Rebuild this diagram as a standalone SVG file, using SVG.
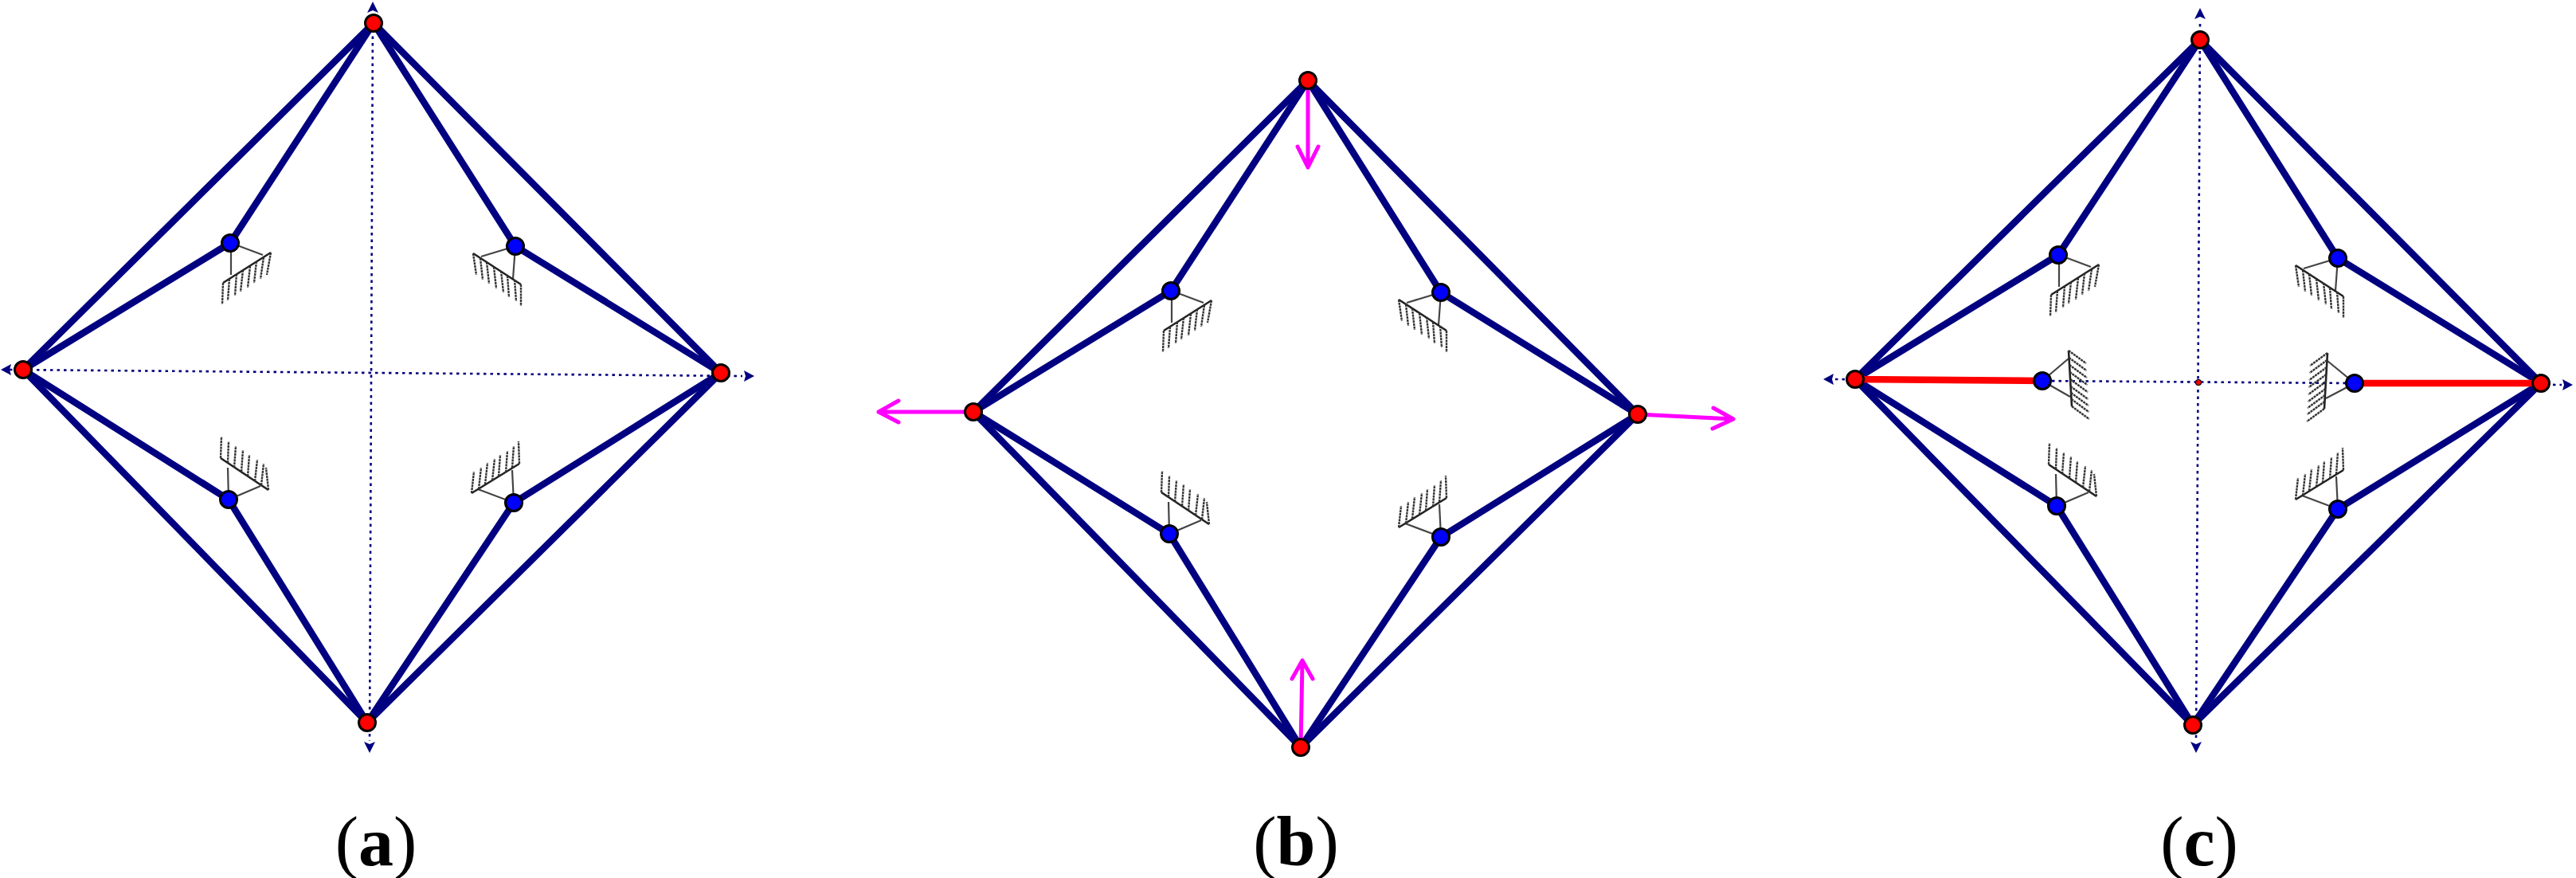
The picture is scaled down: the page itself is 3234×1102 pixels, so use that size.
<svg xmlns="http://www.w3.org/2000/svg" width="3234" height="1102" viewBox="0 0 3234 1102">
<style>
.m{stroke:#000080;stroke-width:8.5;fill:none;stroke-linecap:round}
.r{stroke:#ff0000;stroke-width:8.5;fill:none}
.d{stroke:#000080;stroke-width:2.6;fill:none;stroke-dasharray:3.5 5}
.f{stroke:#ff00ff;stroke-width:5;fill:none;stroke-linecap:round;stroke-linejoin:round}
.nr{fill:#ff0000;stroke:#000;stroke-width:3}
.nb{fill:#0000ff;stroke:#000;stroke-width:3}
.tr{stroke:#444;stroke-width:2.2;fill:none}
.ba{stroke:#222;stroke-width:2.6;fill:none}
.ha{stroke:#333;stroke-width:2.4;fill:none;stroke-dasharray:3 .8}
.lb{font-family:"Liberation Serif","Times New Roman",serif;font-size:88px;fill:#000;text-anchor:middle}
.ah{fill:#000080}
</style>
<defs>
<g id="sUL"><path class="tr" d="M1 40L1 0L41 15"/><path class="ba" d="M-9 50L51 12"/><path class="ha" d="M-9 50l-1 27M-1 45l-2 27M8 39l-2 27M16 34l-3 27M25 29l-3 27M33 23l-3 27M42 18l-4 27M51 12l-5 28"/></g>
<g id="sUR"><path class="tr" d="M-43 13L0 0L-3 41"/><path class="ba" d="M-53 9L7 48"/><path class="ha" d="M-53 9l4 27M-44 15l3 27M-36 20l3 27M-27 26l3 27M-18 31l3 27M-10 37l2 27M-1 42l2 27M7 48l0 27"/></g>
<g id="sLL"><path class="tr" d="M-1 -40L0 0L40 -17"/><path class="ba" d="M-10 -52L50 -12"/><path class="ha" d="M-10 -52l1 -27M-1 -46l1 -27M7 -40l2 -27M16 -35l2 -27M24 -29l2 -27M33 -23l3 -27M41 -18l3 -27M50 -12l-3 -28"/></g>
<g id="sLR"><path class="tr" d="M-2 -41L0 0L-45 -17"/><path class="ba" d="M-53 -12L7 -49"/><path class="ha" d="M-53 -12l3 -27M-44 -17l3 -27M-36 -23l3 -27M-27 -28l3 -27M-19 -33l2 -27M-10 -38l2 -27M-2 -44l2 -27M7 -49l-1 -28"/></g>
<g id="sML"><path class="tr" d="M33 -28L0 0L35 20"/><path class="ba" d="M33 -38L37 32"/><path class="ha" d="M33 -38l22 16M33.500 -29l22 16M34 -20l22 16M34.500 -11l22 16M35 -2l22 16M35.500 7l22 16M36 15l22 16M36.500 23l22 16M37 32l22 16"/></g>
<g id="sMR"><path class="tr" d="M-34 -28L0 0L-36 19"/><path class="ba" d="M-34 -38L-38 32"/><path class="ha" d="M-34 -38l-22 16M-34.500 -29l-22 16M-35 -20l-22 16M-35.500 -11l-22 16M-36 -2l-22 16M-36.500 7l-22 16M-37 15l-22 16M-37.500 23l-22 16M-38 32l-22 16"/></g>
</defs>
<rect width="3234" height="1102" fill="#fff"/>
<g id="connectors">
<g id="panel-a-lines">
<path class="d" d="M12 464L932 472"/><path class="d" d="M468 20L464 930"/>
<path class="ah" d="M468 2L475 16L468 13L461 16Z"/><path class="ah" d="M1 464L14 457L12 464L14 471Z"/><path class="ah" d="M947 472L934 479L936 472L934 465Z"/><path class="ah" d="M464 945L457 931L464 934L471 931Z"/>
<path class="m" d="M469 29L29 464L461 907L905 468Z"/>
<path class="m" d="M469 29L289 305L29 464M469 29L647 309L905 468M29 464L287 627L461 907M905 468L645 631L461 907"/>
</g>
<g id="panel-b-lines">
<path class="m" d="M1642 101L1222 517L1633 938L2056 520Z"/>
<path class="m" d="M1642 101L1470 365L1222 517M1642 101L1809 367L2056 520M1222 517L1468 670L1633 938M2056 520L1809 674L1633 938"/>
<path class="f" d="M1642 101L1642 210M1629 184L1642 210L1655 184"/>
<path class="f" d="M1222 517L1103 517M1128 503L1103 517L1128 530"/>
<path class="f" d="M2056 520L2176 526M2151 512L2176 526L2150 538"/>
<path class="f" d="M1633 938L1635 829M1622 852L1635 829L1648 852"/>
</g>
<g id="panel-c-lines">
<path class="d" d="M2304 476L3216 483"/><path class="d" d="M2762 30L2757 930"/>
<path class="ah" d="M2762 10L2769 24L2762 21L2755 24Z"/><path class="ah" d="M2757 945L2750 931L2757 934L2764 931Z"/><path class="ah" d="M2289 476L2302 469L2300 476L2302 483Z"/><path class="ah" d="M3230 483L3217 490L3219 483L3217 476Z"/>
<path class="m" d="M2762 50L2329 476L2753 910L3190 481Z"/>
<path class="m" d="M2762 50L2584 320L2329 476M2762 50L2935 324L3190 481M2329 476L2582 635L2753 910M3190 481L2935 639L2753 910"/>
<path class="r" d="M2329 476L2564 478M2956 481L3190 481"/>
</g>
</g>
<g id="a-support-ul"><use href="#sUL" x="289" y="305"/></g>
<g id="a-support-ur"><use href="#sUR" x="647" y="309"/></g>
<g id="a-support-ll"><use href="#sLL" x="287" y="627"/></g>
<g id="a-support-lr"><use href="#sLR" x="645" y="631"/></g>
<g id="b-support-ul"><use href="#sUL" x="1470" y="365"/></g>
<g id="b-support-ur"><use href="#sUR" x="1809" y="367"/></g>
<g id="b-support-ll"><use href="#sLL" x="1468" y="670"/></g>
<g id="b-support-lr"><use href="#sLR" x="1809" y="674"/></g>
<g id="c-support-ul"><use href="#sUL" x="2584" y="320"/></g>
<g id="c-support-ur"><use href="#sUR" x="2935" y="324"/></g>
<g id="c-support-ll"><use href="#sLL" x="2582" y="635"/></g>
<g id="c-support-lr"><use href="#sLR" x="2935" y="639"/></g>
<g id="c-support-ml"><use href="#sML" x="2564" y="478"/></g>
<g id="c-support-mr"><use href="#sMR" x="2956" y="481"/></g>
<g id="a-top"><circle class="nr" cx="469" cy="29" r="10.5"/></g>
<g id="a-left"><circle class="nr" cx="29" cy="464" r="10.5"/></g>
<g id="a-right"><circle class="nr" cx="905" cy="468" r="10.5"/></g>
<g id="a-bottom"><circle class="nr" cx="461" cy="907" r="10.5"/></g>
<g id="a-ul"><circle class="nb" cx="289" cy="305" r="10.5"/></g>
<g id="a-ur"><circle class="nb" cx="647" cy="309" r="10.5"/></g>
<g id="a-ll"><circle class="nb" cx="287" cy="627" r="10.5"/></g>
<g id="a-lr"><circle class="nb" cx="645" cy="631" r="10.5"/></g>
<g id="b-top"><circle class="nr" cx="1642" cy="101" r="10.5"/></g>
<g id="b-left"><circle class="nr" cx="1222" cy="517" r="10.5"/></g>
<g id="b-right"><circle class="nr" cx="2056" cy="520" r="10.5"/></g>
<g id="b-bottom"><circle class="nr" cx="1633" cy="938" r="10.5"/></g>
<g id="b-ul"><circle class="nb" cx="1470" cy="365" r="10.5"/></g>
<g id="b-ur"><circle class="nb" cx="1809" cy="367" r="10.5"/></g>
<g id="b-ll"><circle class="nb" cx="1468" cy="670" r="10.5"/></g>
<g id="b-lr"><circle class="nb" cx="1809" cy="674" r="10.5"/></g>
<g id="c-top"><circle class="nr" cx="2762" cy="50" r="10.5"/></g>
<g id="c-left"><circle class="nr" cx="2329" cy="476" r="10.5"/></g>
<g id="c-right"><circle class="nr" cx="3190" cy="481" r="10.5"/></g>
<g id="c-bottom"><circle class="nr" cx="2753" cy="910" r="10.5"/></g>
<g id="c-ul"><circle class="nb" cx="2584" cy="320" r="10.5"/></g>
<g id="c-ur"><circle class="nb" cx="2935" cy="324" r="10.5"/></g>
<g id="c-ll"><circle class="nb" cx="2582" cy="635" r="10.5"/></g>
<g id="c-lr"><circle class="nb" cx="2935" cy="639" r="10.5"/></g>
<g id="c-ml"><circle class="nb" cx="2564" cy="478" r="10.5"/></g>
<g id="c-mr"><circle class="nb" cx="2956" cy="481" r="10.5"/></g>
<g id="c-center"><circle cx="2760" cy="480" r="3.5" fill="#ff0000" stroke="#000" stroke-width="1.2"/></g>
<text class="lb" x="472" y="1086">(<tspan font-weight="bold">a</tspan>)</text>
<text class="lb" x="1627" y="1086">(<tspan font-weight="bold">b</tspan>)</text>
<text class="lb" x="2761" y="1086">(<tspan font-weight="bold">c</tspan>)</text>
</svg>
